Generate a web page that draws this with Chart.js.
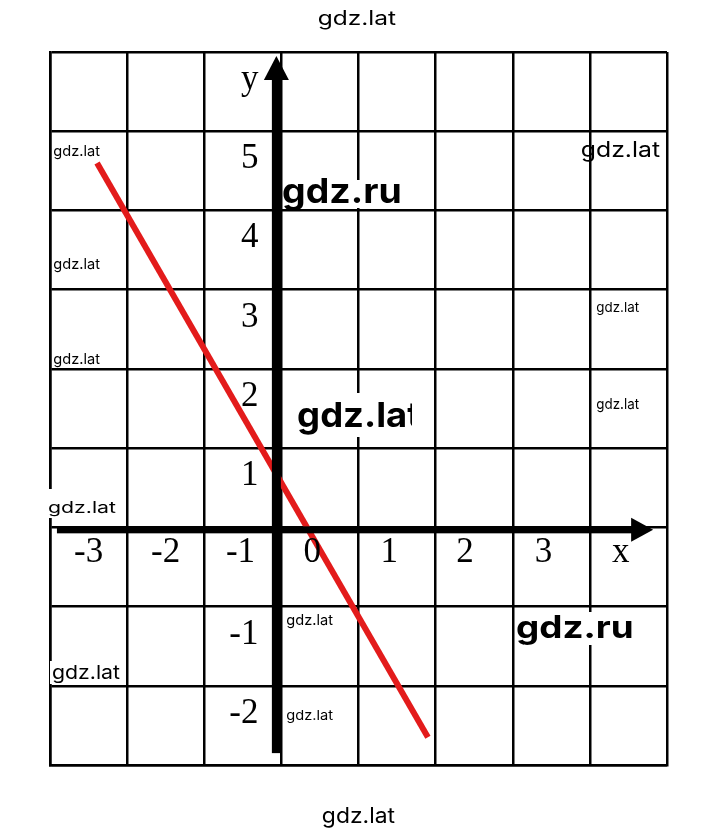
<!DOCTYPE html>
<html>
<head>
<meta charset="utf-8">
<script src="https://cdn.jsdelivr.net/npm/chart.js@4.4.1/dist/chart.umd.min.js"></script>
<style>
html,body{margin:0;padding:0;background:#fff;}
canvas{display:block;}
</style>
</head>
<body>
<canvas id="c" width="720" height="831"></canvas>
<script>
// ---- data (label coordinates: each tick label sits in the middle of a cell) ----
const xGridLines = [-3.5, -2.5, -1.5, -0.5, 0.5, 1.5, 2.5, 3.5, 4.5];
const yGridLines = [-2.5, -1.5, -0.5, 0.5, 1.5, 2.5, 3.5, 4.5, 5.5, 6.5];
const xTickLabels = ['-3', '-2', '-1', '0', '1', '2', '3', 'x'];
const xTickAt = [-3.0, -2.0, -1.03, -0.1, 0.9, 1.88, 2.9, 3.9];
const yTickLabels = ['y', '5', '4', '3', '2', '1', '-1', '-2'];
const yTickAt = [6, 5, 4, 3, 2, 1, -1, -2];
const lineX = [-2.89, 1.40];
const lineY = [5.10, -2.15];

const watermarks = [
  {t:'gdz.lat', x:319, top:10, h:19, w:77},
  {t:'gdz.lat', x:323, top:808, h:20, w:72},
  {t:'gdz.lat', x:54, top:145, h:14, w:46},
  {t:'gdz.lat', x:54, top:258, h:14, w:46},
  {t:'gdz.lat', x:54, top:353, h:14, w:46},
  {t:'gdz.lat', x:597, top:302, h:13, w:42},
  {t:'gdz.lat', x:597, top:398, h:14, w:42},
  {t:'gdz.lat', x:287, top:614, h:14, w:46},
  {t:'gdz.lat', x:287, top:710, h:13, w:46},
  {t:'gdz.lat', x:49, top:502, h:15, w:67, bg:[46,489,74,29]},
  {t:'gdz.lat', x:53, top:665, h:18, w:67, bg:[50,661,72,23]},
  {t:'gdz.lat', x:582, top:142, h:20, w:78},
  {t:'gdz.ru', x:283, top:178, h:33, w:117, bold:true, bg:[283,180,119,28]},
  {t:'gdz.ru', x:517, top:615, h:30, w:115, bold:true, bg:[515,612,120,33]},
  {t:'gdz.lat', x:298, top:402, h:33, w:122, bold:true, bg:[295,393,117,44], clip:true}
];

const axesPlugin = {
  id: 'axesDeco',
  afterDatasetsDraw(chart) {
    const {ctx, scales:{x, y}} = chart;
    ctx.save();
    ctx.fillStyle = '#000';
    // vertical axis
    const ax = x.getPixelForValue(-0.5) - 5;
    const tipY = y.getPixelForValue(6.45);
    const botY = y.getPixelForValue(-2.35);
    ctx.fillRect(ax - 4.5, tipY + 22, 9, botY - tipY - 22);
    ctx.beginPath();
    ctx.moveTo(ax, tipY);
    ctx.lineTo(ax - 12.5, tipY + 24);
    ctx.lineTo(ax + 12.5, tipY + 24);
    ctx.closePath();
    ctx.fill();
    // horizontal axis
    const ay = y.getPixelForValue(0.5) + 2.5;
    const startX = x.getPixelForValue(-3.41);
    const tipX = x.getPixelForValue(4.32);
    ctx.fillRect(startX, ay - 3.5, tipX - 20 - startX, 7);
    ctx.beginPath();
    ctx.moveTo(tipX, ay);
    ctx.lineTo(tipX - 22, ay - 12);
    ctx.lineTo(tipX - 22, ay + 12);
    ctx.closePath();
    ctx.fill();
    // tick labels
    ctx.font = '35px "Liberation Serif", "Times New Roman", serif';
    ctx.textBaseline = 'alphabetic';
    ctx.textAlign = 'center';
    const xBase = y.getPixelForValue(0) - 5;
    xTickLabels.forEach((t, i) => ctx.fillText(t, x.getPixelForValue(xTickAt[i]), xBase));
    ctx.textAlign = 'right';
    yTickLabels.forEach((t, i) => ctx.fillText(t, ax - 18, y.getPixelForValue(yTickAt[i]) - 2.6));
    ctx.restore();
  },
  afterDraw(chart) {
    const ctx = chart.ctx;
    watermarks.forEach(m => {
      ctx.save();
      if (m.bg) {
        ctx.fillStyle = '#fff';
        ctx.fillRect(m.bg[0], m.bg[1], m.bg[2], m.bg[3]);
        if (m.clip) {
          ctx.beginPath();
          ctx.rect(m.bg[0], m.bg[1], m.bg[2], m.bg[3]);
          ctx.clip();
        }
      }
      ctx.font = (m.bold ? 'bold ' : '') + '40px Inter, "Noto Sans", sans-serif';
      ctx.textBaseline = 'alphabetic';
      ctx.textAlign = 'left';
      const mt = ctx.measureText(m.t);
      const tw = mt.actualBoundingBoxLeft + mt.actualBoundingBoxRight;
      const th = mt.actualBoundingBoxAscent + mt.actualBoundingBoxDescent;
      ctx.translate(m.x, m.top);
      ctx.scale(m.w / tw, m.h / th);
      ctx.fillStyle = '#000';
      ctx.fillText(m.t, mt.actualBoundingBoxLeft, mt.actualBoundingBoxAscent);
      ctx.restore();
    });
  }
};

const gridStyle = {color: '#000', lineWidth: 2.5, drawTicks: false};

new Chart(document.getElementById('c'), {
  type: 'scatter',
  data: {
    datasets: [{
      data: lineX.map((v, i) => ({x: v, y: lineY[i]})),
      showLine: true,
      borderColor: '#e31b1b',
      borderWidth: 6,
      pointRadius: 0,
      pointHoverRadius: 0
    }]
  },
  options: {
    responsive: false,
    animation: false,
    events: [],
    layout: {padding: {left: 50, right: 53, top: 52, bottom: 66}},
    plugins: {legend: {display: false}, tooltip: {enabled: false}},
    scales: {
      x: {
        type: 'linear', min: -3.5, max: 4.5,
        afterBuildTicks: s => { s.ticks = xGridLines.map(v => ({value: v})); },
        ticks: {display: false},
        grid: gridStyle,
        border: {display: true, color: '#000', width: 2.5}
      },
      y: {
        type: 'linear', min: -2.5, max: 6.5,
        afterBuildTicks: s => { s.ticks = yGridLines.map(v => ({value: v})); },
        ticks: {display: false},
        grid: gridStyle,
        border: {display: true, color: '#000', width: 2.5}
      }
    }
  },
  plugins: [axesPlugin]
});
</script>
</body>
</html>
